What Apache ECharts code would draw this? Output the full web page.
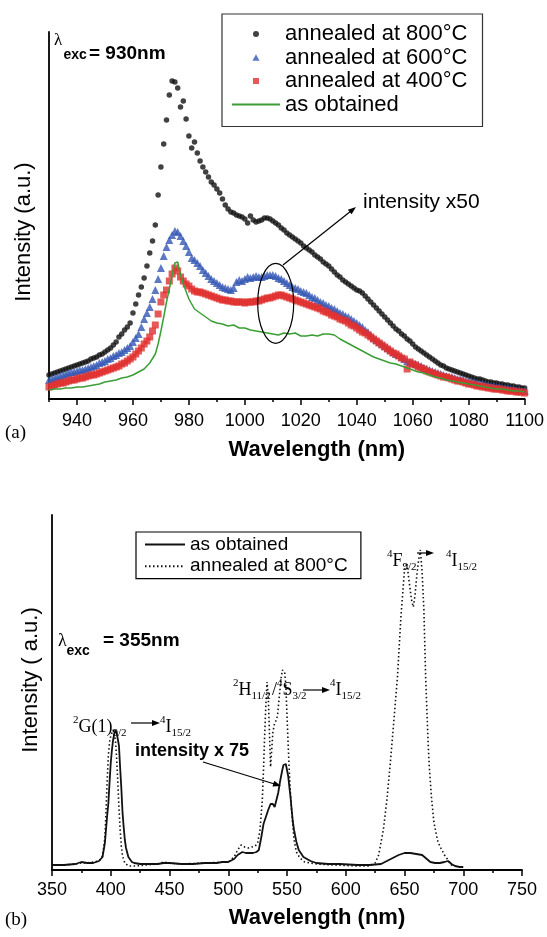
<!DOCTYPE html>
<html>
<head>
<meta charset="utf-8">
<script src="https://cdn.jsdelivr.net/npm/echarts@6/dist/echarts.min.js"></script>
<style>
html,body{margin:0;padding:0;background:#fff}
#chart{width:547px;height:937px}
</style>
</head>
<body>
<div id="chart"></div>
<script>
// (a) emission under 930 nm excitation, one point per nm
const wlA = [
  930,931,932,933,934,935,936,937,938,939,
  940,941,942,943,944,945,946,947,948,949,
  950,951,952,953,954,955,956,957,958,959,
  960,961,962,963,964,965,966,967,968,969,
  970,971,972,973,974,975,976,977,978,979,
  980,981,982,983,984,985,986,987,988,989,
  990,991,992,993,994,995,996,997,998,999,
  1000,1001,1002,1003,1004,1005,1006,1007,1008,1009,
  1010,1011,1012,1013,1014,1015,1016,1017,1018,1019,
  1020,1021,1022,1023,1024,1025,1026,1027,1028,1029,
  1030,1031,1032,1033,1034,1035,1036,1037,1038,1039,
  1040,1041,1042,1043,1044,1045,1046,1047,1048,1049,
  1050,1051,1052,1053,1054,1055,1056,1057,1058,1059,
  1060,1061,1062,1063,1064,1065,1066,1067,1068,1069,
  1070,1071,1072,1073,1074,1075,1076,1077,1078,1079,
  1080,1081,1082,1083,1084,1085,1086,1087,1088,1089,
  1090,1091,1092,1093,1094,1095,1096,1097,1098,1099,
  1100
];
const annealed800 = [
  24,25,26,27,28,29,30,31,32,33,
  34,35,36,37,38,40,41,42,44,45,
  47,49,51,54,57,62,65,69,72,76,
  86,95,104,112,121,133,146,158,174,204,
  232,255,279,304,318,317,311,292,298,280,
  263,251,257,246,238,232,227,222,217,214,
  210,206,200,194,190,187,186,184,183,182,
  180,176,183,179,177,178,179,181,181,180,
  178,176,174,171,169,166,164,162,160,158,
  156,153,151,149,147,144,142,140,137,135,
  133,130,127,124,122,119,117,115,113,111,
  109,108,106,103,100,97,94,91,88,85,
  82,79,76,73,70,68,65,63,60,58,
  55,52,50,48,46,44,42,40,38,36,
  34,33,31,30,29,28,27,26,25,24,
  23,22,21,20,20,19,18,17,17,16,
  16,15,15,14,14,13,13,12,12,11,
  11
];
const annealed600 = [
  19,20,21,22,23,24,25,26,27,27,
  28,29,29,30,31,32,33,34,36,37,
  38,40,41,43,44,46,47,49,51,53,
  57,61,65,72,80,86,92,100,109,120,
  131,143,152,159,164,168,167,163,158,153,
  147,141,139,136,133,129,126,123,120,118,
  116,114,112,111,110,109,111,117,119,118,
  120,122,121,122,123,122,122,123,124,124,
  124,123,121,120,118,116,114,112,111,110,
  108,107,106,104,102,101,99,97,96,94,
  93,91,90,88,86,85,83,82,80,78,
  76,74,72,69,67,64,61,59,57,55,
  53,51,49,47,45,44,42,40,38,37,
  36,35,34,33,31,30,29,28,27,26,
  25,24,23,22,22,21,20,20,19,18,
  18,17,17,16,15,15,14,14,13,13,
  12,12,11,11,11,10,10,9,9,8,
  8
];
const annealed400 = [
  12,13,14,15,16,16,17,18,19,19,
  20,21,21,22,23,24,24,25,26,27,
  28,29,30,31,32,33,35,36,38,40,
  42,45,48,51,55,58,62,68,74,85,
  97,104,109,118,125,131,128,122,118,115,
  113,110,108,107,107,106,105,104,103,102,
  101,100,99,99,98,98,97,97,97,97,
  96,97,97,97,98,98,99,100,101,101,
  102,103,104,104,103,102,101,100,99,98,
  97,96,95,94,93,92,91,90,88,87,
  86,84,83,82,80,79,78,76,74,73,
  71,69,67,66,64,62,60,58,56,54,
  52,50,48,46,45,43,41,40,30,37,
  35,34,32,31,30,28,27,26,25,24,
  23,22,22,21,20,19,18,18,17,16,
  15,15,14,13,13,12,12,11,11,10,
  10,10,9,9,8,8,8,7,7,7,
  6
];
const obtainedWlA = [
  930,932,934,936,938,940,942,944,946,948,950,952,954,956,958,960,962,964,966,968,
  969,970,971,972,973,974,975,976,977,978,980,982,984,986,988,990,992,994,996,998,
  1000,1002,1004,1006,1008,1010,1012,1014,1016,1018,1020,1022,1024,1026,1028,1030,1032,1034,1036,1038,
  1040,1042,1044,1046,1048,1050,1052,1054,1056,1058,1060,1062,1064,1066,1068,1070,1072,1074,1076,1078,
  1080,1082,1084,1086,1088,1090,1092,1094,1096,1098,1100
];
const obtainedA = [
  9,10,10,11,11,12,12,13,14,15,17,18,19,21,22,24,27,30,36,45,
  55,68,82,97,110,124,136,137,124,115,100,90,86,82,78,76,75,73,74,71,
  71,69,68,67,66,65,64,66,65,66,63,63,64,63,65,65,64,60,57,54,
  51,48,45,42,40,38,36,35,33,31,29,27,26,24,22,21,19,18,17,16,
  15,14,13,12,11,10,10,9,8,8,7
];
const ticksA = [940,960,980,1000,1020,1040,1060,1080,1100];
const minorTicksA = [930,950,970,990,1010,1030,1050,1070,1090];

// (b) emission under 355 nm excitation
const solidWl = [
  350,360,370,375,380,385,390,393,395,397,398,399,400,401,402,403,404,405,406,407,
  408,409,410,411,412,413,415,418,420,425,430,440,445,450,460,470,480,490,495,500,
  505,508,512,515,518,521,524,526,528,530,532,534,536,538,539.5,541,542.5,544,546,547,
  548,549,550,551,552,553,554,555,556,558,560,564,570,575,585,595,610,620,630,635,
  640,645,650,655,660,665,668,672,676,680,684,687,690,693,697,700
];
const solidVal = [
  5,5,6,8,7,7,9,13,27,55,67,88,107,120,130,136,140,137,131,124,
  102,82,58,43,30,22,13,8,7,6,6,6,7,7,6,6,7,7,8,8,
  11,15,18,17,17,17,18,20,32,46,53,60,66,66,63,70,77,88,100,105,
  107,106,100,94,83,73,60,48,40,28,20,13,9,7,6,6,5,5,6,9,
  12,15,17,17,16,15,12,8,7,7,8,9,6,4,3,3
];
const dottedWl = [
  350,360,370,375,380,390,393,395,396,397,398,399,400,401,402,403,404,405,406,407,
  408,409,410,412,415,420,430,440,445,450,460,480,500,505,508,511,514,517,520,523,
  525,527,529,530,531,532,533,534,535,536,537,538,539.5,541,542,543,544,545,546,547,
  548,549,550,551,552,553,554,556,558,561,565,575,590,610,620,625,628,632,635,638,
  641,644,647,650,652,654,656,657.5,659,660.5,662,663.5,665,666.5,668,670,671,673,675,678,
  680,684,687,690,692
];
const dottedVal = [
  5,5,6,7,7,9,14,32,60,90,115,128,134,137,140,138,130,112,88,62,
  40,24,14,7,4,4,5,6,8,7,6,7,8,13,20,25,23,22,23,24,
  27,40,70,100,135,165,188,175,140,103,120,138,147,150,155,168,180,192,200,202,
  198,185,155,125,98,75,58,30,18,12,8,6,5,4,4,7,15,40,70,108,
  150,193,254,300,307,288,270,263,275,295,310,320,298,260,193,130,105,72,48,30,
  24,15,10,5,3
];

const SANS = 'Liberation Sans, Arial, sans-serif';
const SERIF = 'Liberation Serif, Times New Roman, serif';

function pairs(xs, ys) {
  return xs.map(function (x, i) { return [x, ys[i]]; });
}

// legend icons: a small symbol in the middle of a 48x7 frame (the corner specks fix the frame size)
const FRAME = 'M0 0h0.01M48 7h0.01';
const iconDot = 'path://' + FRAME + 'M21 3.5a3 3 0 1 0 6 0a3 3 0 1 0 -6 0Z';
const iconTri = 'path://' + FRAME + 'M24 0.3L27.6 6.7L20.4 6.7Z';
const iconSq = 'path://' + FRAME + 'M21 0.5h6v6h-6Z';

const richSerif = {
  m: { fontFamily: SERIF, fontSize: 18, lineHeight: 24 },
  sup: { fontFamily: SERIF, fontSize: 11, lineHeight: 11, verticalAlign: 'top' },
  sub: { fontFamily: SERIF, fontSize: 11, lineHeight: 11, verticalAlign: 'bottom' }
};

function txt(x, y, text, style, extra) {
  return Object.assign({
    type: 'text', x: x, y: y, z: 100,
    style: Object.assign({ text: text, fill: '#000', align: 'left', verticalAlign: 'middle', fontFamily: SANS }, style)
  }, extra || {});
}

function level(x, y, text) {
  return txt(x, y, text, { rich: richSerif });
}

function arrow(x1, y1, x2, y2) {
  const len = Math.sqrt((x2 - x1) * (x2 - x1) + (y2 - y1) * (y2 - y1));
  const ux = (x2 - x1) / len, uy = (y2 - y1) / len;
  const head = 8, half = 3;
  const bx = x2 - ux * head, by = y2 - uy * head;
  return [
    { type: 'line', z: 100, shape: { x1: x1, y1: y1, x2: bx + ux * 2, y2: by + uy * 2 }, style: { stroke: '#000', lineWidth: 1.2 } },
    { type: 'polygon', z: 100, shape: { points: [[x2, y2], [bx - uy * half, by + ux * half], [bx + uy * half, by - ux * half]] }, style: { fill: '#000' } }
  ];
}

const chart = echarts.init(document.getElementById('chart'));

const axisLineStyle = { color: '#000', width: 1.8 };
const tickLabel = {
  color: '#000', fontSize: 18, fontFamily: SANS,
  formatter: function (v) { return String(v); }
};
const hiddenY = {
  type: 'value', min: 0,
  axisLine: { show: true, lineStyle: axisLineStyle },
  axisTick: { show: false }, axisLabel: { show: false }, splitLine: { show: false }
};

const graphics = [
  // y titles
  txt(23.5, 232, 'Intensity (a.u.)', { fontSize: 22, align: 'center' }, { rotation: Math.PI / 2 }),
  txt(31, 680, 'Intensity ( a.u.)', { fontSize: 22, align: 'center' }, { rotation: Math.PI / 2 }),
  txt(5, 433, '(a)', { fontFamily: SERIF, fontSize: 19 }),
  txt(5, 920, '(b)', { fontFamily: SERIF, fontSize: 19 }),
  // excitation wavelengths
  txt(54, 41, 'λ', { fontFamily: SERIF, fontSize: 17 }),
  txt(63.5, 55, 'exc', { fontSize: 14, fontWeight: 'bold' }),
  txt(89, 54, '= 930nm', { fontSize: 19, fontWeight: 'bold' }),
  txt(58, 641, 'λ', { fontFamily: SERIF, fontSize: 18 }),
  txt(66.5, 651, 'exc', { fontSize: 14, fontWeight: 'bold' }),
  txt(103, 641, '= 355nm', { fontSize: 19, fontWeight: 'bold' }),
  // (a) callout
  txt(363, 202, 'intensity x50', { fontSize: 21 }),
  { type: 'ellipse', z: 100, shape: { cx: 275.7, cy: 303.3, rx: 18, ry: 40 }, style: { fill: 'none', stroke: '#000', lineWidth: 1.2 } },
  // (b) transitions
  level(73, 727, '{sup|2}{m|G(1)}{sub|9/2}'),
  level(160, 727, '{sup|4}{m|I}{sub|15/2}'),
  level(233, 690, '{sup|2}{m|H}{sub|11/2}'),
  level(272, 690, '{m|/}{sup|4}{m|S}{sub|3/2}'),
  level(330, 690, '{sup|4}{m|I}{sub|15/2}'),
  level(387, 561, '{sup|4}{m|F}{sub|9/2}'),
  level(446, 561, '{sup|4}{m|I}{sub|15/2}'),
  txt(135, 751, 'intensity x 75', { fontSize: 18, fontWeight: 'bold' })
].concat(
  arrow(283, 265, 356, 207),
  arrow(131, 723, 160, 723),
  arrow(303, 690, 330, 690),
  arrow(417, 553, 434, 553),
  arrow(203, 762, 281, 786)
);

const option = {
  animation: false,
  backgroundColor: '#fff',
  grid: [
    { left: 49, top: 32, width: 477, height: 367 },
    { left: 52, top: 515, width: 470, height: 355 }
  ],
  legend: [
    {
      left: 222, top: 14, orient: 'vertical', selectedMode: false,
      itemWidth: 48, itemHeight: 7, itemGap: 1.5,
      padding: [9, 15, 11, 9], borderColor: '#333', borderWidth: 1.2,
      textStyle: { fontSize: 22, fontFamily: SANS, color: '#000' },
      data: [
        { name: 'annealed at 800°C', icon: iconDot },
        { name: 'annealed at 600°C', icon: iconTri },
        { name: 'annealed at 400°C', icon: iconSq },
        { name: 'as obtained', itemStyle: { opacity: 0 } }
      ]
    },
    {
      left: 136, top: 532, orient: 'vertical', selectedMode: false,
      itemWidth: 40, itemHeight: 7, itemGap: 2.7,
      padding: [3, 8, 3, 8], borderColor: '#000', borderWidth: 1.2,
      textStyle: { fontSize: 19, fontFamily: SANS, color: '#000' },
      data: [
        { name: 'as obtained ', itemStyle: { opacity: 0 } },
        { name: 'annealed at 800°C ', itemStyle: { opacity: 0 } }
      ]
    }
  ],
  xAxis: [
    {
      type: 'value', gridIndex: 0, min: 930, max: 1100, position: 'bottom',
      axisLine: { lineStyle: axisLineStyle },
      axisTick: { customValues: ticksA, length: 6, lineStyle: { color: '#000', width: 1.5 } },
      axisLabel: Object.assign({ customValues: ticksA, margin: 13 }, tickLabel),
      splitLine: { show: false },
      name: 'Wavelength (nm)', nameLocation: 'middle', nameGap: 40,
      nameTextStyle: { fontSize: 22, fontWeight: 'bold', fontFamily: SANS, color: '#000', padding: [0, 0, 0, 60] }
    },
    {
      type: 'value', gridIndex: 0, min: 930, max: 1100, position: 'bottom',
      axisLine: { show: false },
      axisTick: { customValues: minorTicksA, length: 3, lineStyle: { color: '#000', width: 1.5 } },
      axisLabel: { show: false }, splitLine: { show: false }
    },
    {
      type: 'value', gridIndex: 1, min: 350, max: 750, interval: 50, position: 'bottom',
      axisLine: { lineStyle: axisLineStyle },
      axisTick: { length: 6, lineStyle: { color: '#000', width: 1.5 } },
      minorTick: { show: true, splitNumber: 2, length: 3, lineStyle: { color: '#000', width: 1.5 } },
      axisLabel: Object.assign({ margin: 11 }, tickLabel),
      splitLine: { show: false },
      name: 'Wavelength (nm)', nameLocation: 'middle', nameGap: 37,
      nameTextStyle: { fontSize: 22, fontWeight: 'bold', fontFamily: SANS, color: '#000', padding: [0, 0, 0, 60] }
    }
  ],
  yAxis: [
    Object.assign({ gridIndex: 0, max: 367 }, hiddenY),
    Object.assign({ gridIndex: 1, max: 355 }, hiddenY)
  ],
  series: [
    {
      name: 'annealed at 800°C', type: 'scatter', xAxisIndex: 0, yAxisIndex: 0,
      symbol: 'circle', symbolSize: 5.5, itemStyle: { color: '#111' },
      data: pairs(wlA, annealed800)
    },
    {
      name: 'annealed at 600°C', type: 'scatter', xAxisIndex: 0, yAxisIndex: 0,
      symbol: 'triangle', symbolSize: 8, itemStyle: { color: '#3458b4' },
      data: pairs(wlA, annealed600)
    },
    {
      name: 'annealed at 400°C', type: 'scatter', xAxisIndex: 0, yAxisIndex: 0,
      symbol: 'rect', symbolSize: 7, itemStyle: { color: '#e0302e' },
      data: pairs(wlA, annealed400)
    },
    {
      name: 'as obtained', type: 'line', xAxisIndex: 0, yAxisIndex: 0,
      symbol: 'none', lineStyle: { color: '#3a9e35', width: 1.5 }, itemStyle: { color: '#3a9e35' },
      data: pairs(obtainedWlA, obtainedA)
    },
    {
      name: 'as obtained ', type: 'line', xAxisIndex: 2, yAxisIndex: 1,
      symbol: 'none', lineStyle: { color: '#111', width: 1.8 }, itemStyle: { color: '#111' },
      data: pairs(solidWl, solidVal)
    },
    {
      name: 'annealed at 800°C ', type: 'line', xAxisIndex: 2, yAxisIndex: 1,
      symbol: 'none', lineStyle: { color: '#111', width: 1.6, type: [1.5, 2.5] }, itemStyle: { color: '#111' },
      data: pairs(dottedWl, dottedVal)
    }
  ],
  graphic: graphics
};

chart.setOption(option);
</script>
</body>
</html>
